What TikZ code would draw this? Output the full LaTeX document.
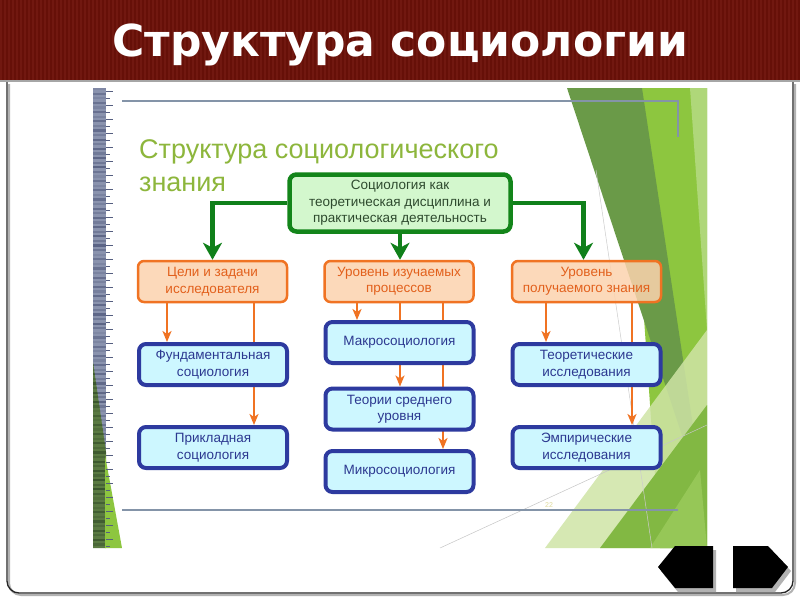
\documentclass[tikz,border=0pt]{standalone}
\usepackage{fontspec}
\setmainfont{Liberation Sans}
\newfontfamily\titlefont{DejaVu Sans}
\usetikzlibrary{arrows.meta}
\pgfdeclarelayer{decor}
\pgfdeclarelayer{links}
\pgfsetlayers{decor,links,main}
\definecolor{hdr}{HTML}{661008}
\definecolor{hdrs}{HTML}{711810}
\definecolor{headg}{HTML}{8DB63C}
\definecolor{tgreen}{HTML}{13851A}
\definecolor{tfill}{HTML}{D3F7CD}
\definecolor{ttext}{HTML}{2E4A2E}
\definecolor{garr}{HTML}{10801A}
\definecolor{oline}{HTML}{F07323}
\definecolor{ofill}{HTML}{FCD3AE}
\definecolor{otext}{HTML}{E2601C}
\definecolor{bline}{HTML}{2D3A9F}
\definecolor{bfill}{HTML}{CDF7FF}
\definecolor{btext}{HTML}{2C3890}
\definecolor{stB}{HTML}{8A93AE}
\definecolor{stD}{HTML}{555E80}
\definecolor{stG}{HTML}{5A7A42}
\definecolor{stGD}{HTML}{35502A}
\definecolor{brg}{HTML}{8DC63F}
\definecolor{dkg}{HTML}{6A9A48}
\definecolor{mdg}{HTML}{82B843}
\definecolor{pag}{HTML}{CFE4A6}
\definecolor{gline}{HTML}{8494A8}
\tikzset{
  topbox/.style={draw=tgreen, line width=4.5pt, fill=tfill, rounded corners=7pt, text=ttext, align=center,
    font=\fontsize{13.5}{16.5}\selectfont, minimum width=221pt, minimum height=57pt, inner sep=0pt},
  obox/.style={draw=oline, line width=2.5pt, fill=ofill, fill opacity=0.85, text opacity=1, rounded corners=6pt,
    text=otext, align=center, font=\fontsize{13.5}{16.5}\selectfont, minimum width=149pt, minimum height=41pt, inner sep=0pt},
  bbox/.style={draw=bline, line width=4pt, fill=bfill, rounded corners=7pt, text=btext, align=center,
    font=\fontsize{13.5}{16.5}\selectfont, minimum width=148pt, minimum height=41pt, inner sep=0pt},
  garrow/.style={draw=garr, line width=4.3pt, -{Stealth[length=17pt,width=19pt,inset=5pt]}},
  oarrow/.style={draw=oline, line width=2.5pt, -{Stealth[length=11pt,width=9pt,inset=3pt]}},
}
\begin{document}
\begin{tikzpicture}[x=1pt,y=-1pt]
\useasboundingbox (0,0) rectangle (800,600);
\begin{pgfonlayer}{decor}
\fill[white] (0,0) rectangle (800,600);
% header
\fill[hdr] (0,0) rectangle (800,80);
\foreach \i in {0,...,199}{\fill[hdrs] (\i*4,0) rectangle (\i*4+1.6,80);}
\draw[gray!70, line width=2pt] (0,81) -- (800,81);
% slide frame
\draw[gray!60, line width=2pt, rounded corners=12pt] (9,84) -- (9,595) -- (795,595) -- (795,84);
\draw[black!85, line width=1.3pt, rounded corners=12pt] (7,82) -- (7,593) -- (793,593) -- (793,82);
% embedded picture
\fill[white] (93,88) rectangle (707,548);
% left stripe
\fill[stB] (93,88) rectangle (106,548);
\foreach \i in {0,...,99}{
  \pgfmathsetmacro\yy{88+\i*4.6}
  \pgfmathtruncatemacro\s{20+mod(\i*37,70)}
  \fill[stD!\s!stB] (93,\yy) rectangle (106,\yy+2.2);
}
\fill[stG] (93,362) -- (106,452) -- (106,548) -- (93,548) -- cycle;
\begin{scope}
  \clip (93,362) -- (106,452) -- (106,548) -- (93,548) -- cycle;
  \foreach \i in {0,...,99}{
    \pgfmathsetmacro\yy{88+\i*4.6}
    \pgfmathtruncatemacro\s{20+mod(\i*37,70)}
    \fill[stGD!\s!stG] (93,\yy) rectangle (106,\yy+2.2);
  }
\end{scope}
\fill[brg] (105,455) -- (122,548) -- (105,548) -- cycle;
\foreach \j in {0,...,65}{
  \pgfmathsetmacro\len{ifthenelse(mod(\j,2)==0,7,3.5)}
  \draw[stD, line width=0.9pt] (106,91+\j*7) -- (106+\len,91+\j*7);
}
% right green decoration
\fill[brg] (628,88) -- (707,88) -- (707,548) -- (660,548) -- cycle;
\fill[dkg] (567,88) -- (642,88) -- (705,505) -- cycle;
\fill[pag, opacity=0.85] (545,548) -- (707,330) -- (707,548) -- cycle;
\fill[mdg] (600,548) -- (707,405) -- (707,548) -- cycle;
\fill[brg!80!white, opacity=0.6] (650,548) -- (700,470) -- (707,548) -- cycle;
\fill[brg!70!white] (690,88) -- (707,88) -- (707,330) -- cycle;
\draw[gray!45, line width=0.5pt] (440,548) -- (707,425);
\draw[gray!40, line width=0.5pt] (596,170) -- (652,548);
% gray rules
\draw[gline, line width=1.3pt] (122,101) -- (678,101) -- (678,137);
\draw[gline, line width=1.5pt] (122,510) -- (678,510);
\node[text=yellow!50!gray!60, font=\fontsize{7}{8}\selectfont] (pg) at (549,505) {22};
\end{pgfonlayer}
% titles
\node[text=white, font=\titlefont\bfseries\fontsize{44}{50}\selectfont] (title) at (400,45) {Структура социологии};
\node[anchor=base west, text=headg, font=\fontsize{27}{32}\selectfont, inner sep=0pt] (h1) at (139,158) {Структура социологического};
\node[anchor=base west, text=headg, font=\fontsize{27}{32}\selectfont, inner sep=0pt] (h2) at (139,191) {знания};
% boxes
\node[topbox] (top) at (400,203) {Социология как\\теоретическая дисциплина и\\практическая деятельность};
\node[obox] (o1) at (212.5,281.5) {Цели и задачи\\исследователя};
\node[obox] (o2) at (399,281.5) {Уровень изучаемых\\процессов};
\node[obox] (o3) at (586.5,281.5) {Уровень\\получаемого знания};
\node[bbox] (b1) at (213,364.5) {Фундаментальная\\социология};
\node[bbox] (b2) at (213,447.5) {Прикладная\\социология};
\node[bbox] (m1) at (399.5,342.5) {Макросоциология};
\node[bbox] (m2) at (399.5,409) {Теории среднего\\уровня};
\node[bbox] (m3) at (399.5,471.5) {Микросоциология};
\node[bbox] (r1) at (586.5,364.5) {Теоретические\\исследования};
\node[bbox] (r2) at (586.5,447.5) {Эмпирические\\исследования};
% connectors
\begin{pgfonlayer}{links}
\draw[garrow] (top.west) -| (o1.north);
\draw[garrow] (top.east) -| ([xshift=-3]o3.north);
\draw[garrow] (top.south) -- ([xshift=1]o2.north);
\draw[oarrow] ([xshift=-45.5]o1.south) -- ([xshift=-46]b1.north);
\draw[oarrow] ([xshift=41.5]o1.south) -- ([xshift=41]b2.north);
\draw[oarrow] ([xshift=-42]o2.south) -- ([xshift=-42.5]m1.north);
\draw[oarrow] ([xshift=1]o2.south) -- ([xshift=0.5]m2.north);
\draw[oarrow] ([xshift=44]o2.south) -- ([xshift=43.5]m3.north);
\draw[oarrow] ([xshift=-40.5]o3.south) -- ([xshift=-40.5]r1.north);
\draw[oarrow] ([xshift=45.5]o3.south) -- ([xshift=45.5]r2.north);
\end{pgfonlayer}
% navigation buttons
\fill[gray!60] (661,571) -- (678,550) -- (716,550) -- (716,592) -- (678,592) -- cycle;
\fill[black] (658,567) -- (675,546) -- (713,546) -- (713,588) -- (675,588) -- cycle;
\fill[gray!60] (736,550) -- (771,550) -- (791,571) -- (775,592) -- (736,592) -- cycle;
\fill[black] (733,546) -- (768,546) -- (788,567) -- (772,588) -- (733,588) -- cycle;
\end{tikzpicture}
\end{document}
